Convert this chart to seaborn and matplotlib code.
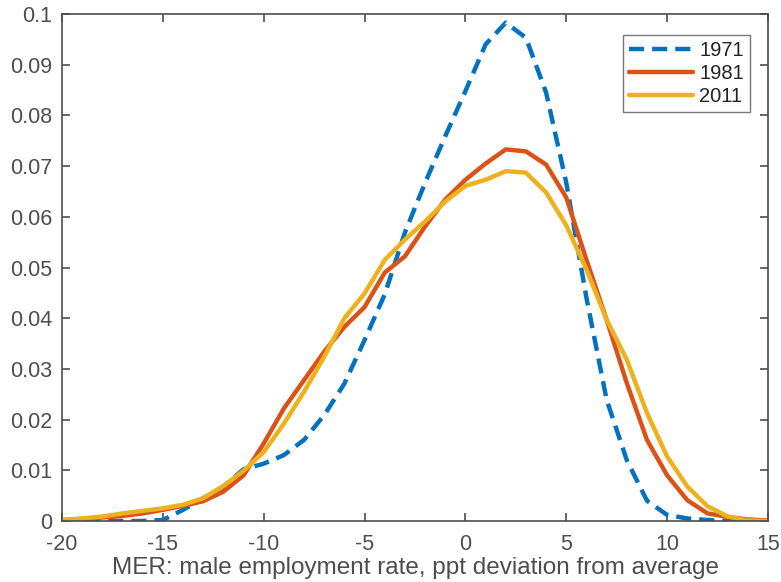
import numpy as np
import pandas as pd
import matplotlib
matplotlib.use("Agg")
import matplotlib.pyplot as plt
import seaborn as sns

# deviation from average (ppt), one point per integer
x_vals = list(range(-20, 16))

dens_1971 = [0.0, 0.0, 0.0, 0.0, 0.0, 0.0002, 0.0022, 0.0045, 0.0068, 0.0102,
             0.0113, 0.013, 0.016, 0.0209, 0.0271, 0.0357, 0.0447, 0.0569, 0.0667, 0.0759,
             0.0848, 0.094, 0.0983, 0.0953, 0.0845, 0.0667, 0.044, 0.0239, 0.012, 0.004,
             0.0012, 0.0005, 0.0002, 0.0, 0.0, 0.0]
dens_1981 = [0.0002, 0.0004, 0.0007, 0.001, 0.0015, 0.0022, 0.003, 0.0039, 0.0058, 0.009,
             0.0153, 0.0222, 0.0278, 0.0334, 0.0383, 0.0422, 0.049, 0.0522, 0.0581, 0.0634,
             0.0673, 0.0705, 0.0733, 0.0729, 0.0703, 0.0638, 0.0515, 0.0397, 0.0272, 0.016,
             0.009, 0.0041, 0.0015, 0.0008, 0.0003, 0.0001]
dens_2011 = [0.0002, 0.0005, 0.0009, 0.0015, 0.002, 0.0025, 0.0032, 0.0045, 0.0069, 0.0099,
             0.0136, 0.0192, 0.0255, 0.0324, 0.04, 0.0449, 0.0515, 0.0555, 0.0591, 0.063,
             0.0661, 0.0673, 0.069, 0.0687, 0.0648, 0.0583, 0.0496, 0.0397, 0.0318, 0.0213,
             0.0127, 0.0068, 0.0029, 0.0009, 0.0001, 0.0]

years = ["1971", "1981", "2011"]
colors = {"1971": "#0072BD", "1981": "#D95319", "2011": "#EDB120"}

df = pd.concat([
    pd.DataFrame({"x": x_vals, "density": d, "year": y})
    for y, d in zip(years, [dens_1971, dens_1981, dens_2011])
])

sns.set_style("ticks")
plt.rcParams["font.family"] = ["Liberation Sans", "DejaVu Sans"]
plt.rcParams["axes.unicode_minus"] = False
axis_color = "#4d4d4d"

fig = plt.figure(figsize=(7.81, 5.82), dpi=100)
ax = fig.add_axes([62 / 781, 1 - 521 / 582, 706 / 781, 507 / 582])

sns.lineplot(data=df, x="x", y="density", hue="year", style="year",
             palette=colors, dashes={"1971": (3.4, 1.8), "1981": "", "2011": ""},
             linewidth=3.2, ax=ax)

ax.set_xlim(-20, 15)
ax.set_ylim(0, 0.1)
ax.set_xticks(range(-20, 16, 5))
ax.set_yticks(np.arange(0, 0.101, 0.01))
ax.set_yticklabels(["0"] + [f"{v:.2f}" for v in np.arange(0.01, 0.095, 0.01)] + ["0.1"])
ax.set_xlabel("MER: male employment rate, ppt deviation from average",
              fontsize=17.5, color=axis_color, labelpad=2)
ax.set_ylabel("")
ax.tick_params(direction="in", top=True, right=True, length=6, width=1.2,
               labelsize=15.5, colors=axis_color)
ax.tick_params(axis="x", pad=9)
ax.tick_params(axis="y", pad=7)
for s in ax.spines.values():
    s.set_visible(True)
    s.set_color(axis_color)
    s.set_linewidth(1.2)

leg = ax.legend(loc="upper right", bbox_to_anchor=(0.98, 0.967), fontsize=14.5,
                frameon=True, fancybox=False, handlelength=3.2, borderpad=0.3,
                labelspacing=0.2, handletextpad=0.3, borderaxespad=0.2)
leg.get_frame().set_edgecolor("#555555")
leg.get_frame().set_linewidth(1.0)
for t in leg.get_texts():
    t.set_color("#222222")

fig.savefig("out.png", dpi=100)
